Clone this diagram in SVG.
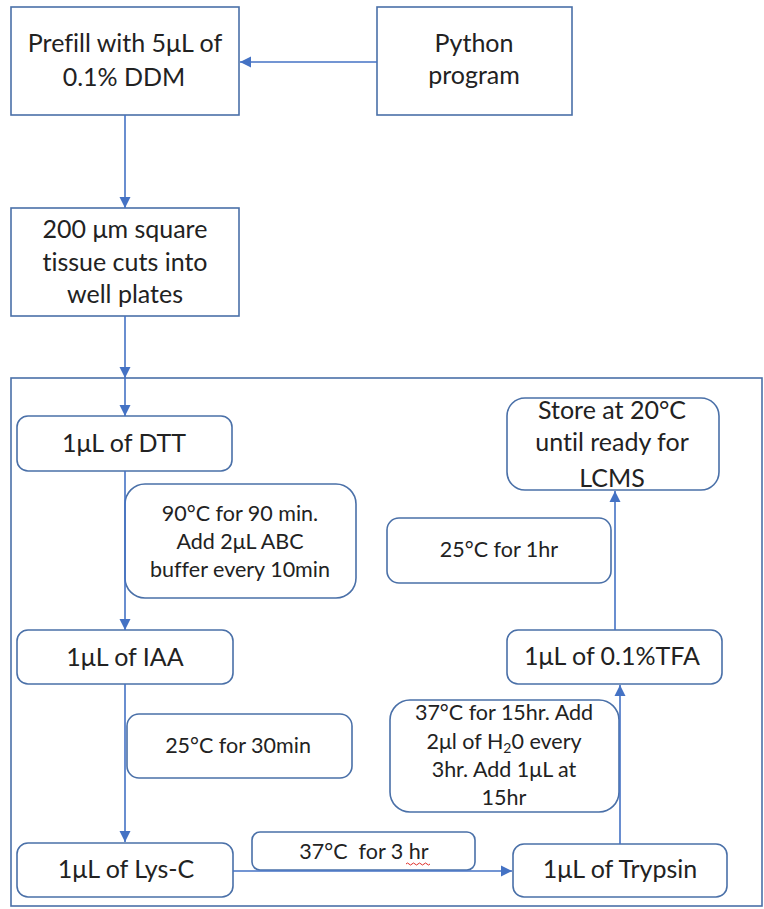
<svg xmlns="http://www.w3.org/2000/svg" width="764" height="909" viewBox="0 0 764 909">
  <style>
    .box { fill: #ffffff; stroke: #4a70a8; stroke-width: 1.6; }
    .frame { fill: none; stroke: #4a70a8; stroke-width: 1.6; }
    .conn { fill: none; stroke: #4472c4; stroke-width: 1.6; }
    .t { font-family: Lato, "Open Sans", sans-serif; fill: #222222; text-anchor: middle; font-variant-ligatures: none; }
    .big { font-size: 25px; }
    .mid { font-size: 25px; }
    .sm { font-size: 21.5px; }
  </style>
  <defs>
    <marker id="arrow" markerUnits="userSpaceOnUse" markerWidth="12" markerHeight="12" refX="11" refY="6" orient="auto">
      <path d="M0,0.5 L11,6 L0,11.5 Z" fill="#4472c4"/>
    </marker>
  </defs>

  <rect width="764" height="909" fill="#ffffff"/>

  <!-- enclosing frame for the digestion steps -->
  <rect class="frame" x="11" y="378" width="751" height="528"/>

  <g id="prefill">
    <rect class="box" x="11" y="7" width="228" height="108"/>
    <text class="t big" x="125" y="52">Prefill with 5μL of</text>
    <text class="t big" x="124" y="86">0.1% DDM</text>
  </g>

  <g id="python">
    <rect class="box" x="377" y="7" width="195" height="108"/>
    <text class="t big" x="474" y="52">Python</text>
    <text class="t big" x="474" y="84">program</text>
  </g>

  <g id="tissue">
    <rect class="box" x="11" y="208" width="228" height="108"/>
    <text class="t mid" x="125" y="238">200 μm square</text>
    <text class="t mid" x="125" y="271">tissue cuts into</text>
    <text class="t mid" x="125" y="303">well plates</text>
  </g>

  <g id="dtt">
    <rect class="box" x="17" y="416" width="215" height="55" rx="11"/>
    <text class="t mid" x="124" y="452">1μL of DTT</text>
  </g>

  <g id="heat90">
    <rect class="box" x="125" y="484" width="231" height="114" rx="20"/>
    <text class="t sm" x="240" y="521">90°C for 90 min.</text>
    <text class="t sm" x="240" y="549">Add 2μL ABC</text>
    <text class="t sm" x="240" y="577">buffer every 10min</text>
  </g>

  <g id="iaa">
    <rect class="box" x="17" y="630" width="216" height="54" rx="11"/>
    <text class="t mid" x="125" y="666">1μL of IAA</text>
  </g>

  <g id="rt30">
    <rect class="box" x="127" y="714" width="225" height="64" rx="12"/>
    <text class="t sm" x="238" y="753">25°C for 30min</text>
  </g>

  <g id="lysc">
    <rect class="box" x="17" y="843" width="216" height="54" rx="11"/>
    <text class="t mid" x="126" y="878">1μL of Lys-C</text>
  </g>

  <g id="lysc-incubation">
    <rect class="box" x="252" y="832" width="223" height="38" rx="8"/>
    <text class="t sm" x="364" y="859" xml:space="preserve">37°C  for 3 hr</text>
    <path d="M406,864 q1.5,-2 3,0 t3,0 t3,0 t3,0 t3,0 t3,0 t3,0 t3,0" fill="none" stroke="#e0302a" stroke-width="1"/>
  </g>

  <g id="trypsin">
    <rect class="box" x="513" y="844" width="214" height="53" rx="11"/>
    <text class="t mid" x="620" y="878">1μL of Trypsin</text>
  </g>

  <g id="overnight">
    <rect class="box" x="390" y="700" width="229" height="112" rx="20"/>
    <text class="t sm" x="504" y="720">37°C for 15hr. Add</text>
    <text class="t sm" x="504" y="749">2μl of H<tspan font-size="14" dy="4">2</tspan><tspan dy="-4">0 every</tspan></text>
    <text class="t sm" x="504" y="777">3hr. Add 1μL at</text>
    <text class="t sm" x="504" y="805">15hr</text>
  </g>

  <g id="tfa">
    <rect class="box" x="507" y="630" width="215" height="54" rx="11"/>
    <text class="t mid" x="612" y="665">1μL of 0.1%TFA</text>
  </g>

  <g id="rt1h">
    <rect class="box" x="387" y="518" width="224" height="65" rx="12"/>
    <text class="t sm" x="499" y="557">25°C for 1hr</text>
  </g>

  <g id="store">
    <rect class="box" x="507" y="398" width="212" height="92" rx="18"/>
    <text class="t mid" x="612" y="419">Store at 20°C</text>
    <text class="t mid" x="612" y="451">until ready for</text>
    <text class="t mid" x="612" y="487">LCMS</text>
  </g>

  <g id="connectors">
    <line class="conn" x1="377" y1="62" x2="240" y2="62" marker-end="url(#arrow)"/>
    <line class="conn" x1="125" y1="115" x2="125" y2="208" marker-end="url(#arrow)"/>
    <line class="conn" x1="125" y1="316" x2="125" y2="378" marker-end="url(#arrow)"/>
    <line class="conn" x1="125" y1="378" x2="125" y2="416" marker-end="url(#arrow)"/>
    <line class="conn" x1="125" y1="471" x2="125" y2="630" marker-end="url(#arrow)"/>
    <line class="conn" x1="125" y1="684" x2="125" y2="842" marker-end="url(#arrow)"/>
    <line class="conn" x1="233" y1="871" x2="512" y2="871" marker-end="url(#arrow)"/>
    <line class="conn" x1="620" y1="844" x2="620" y2="685" marker-end="url(#arrow)"/>
    <line class="conn" x1="615" y1="630" x2="615" y2="491" marker-end="url(#arrow)"/>
  </g>
</svg>
